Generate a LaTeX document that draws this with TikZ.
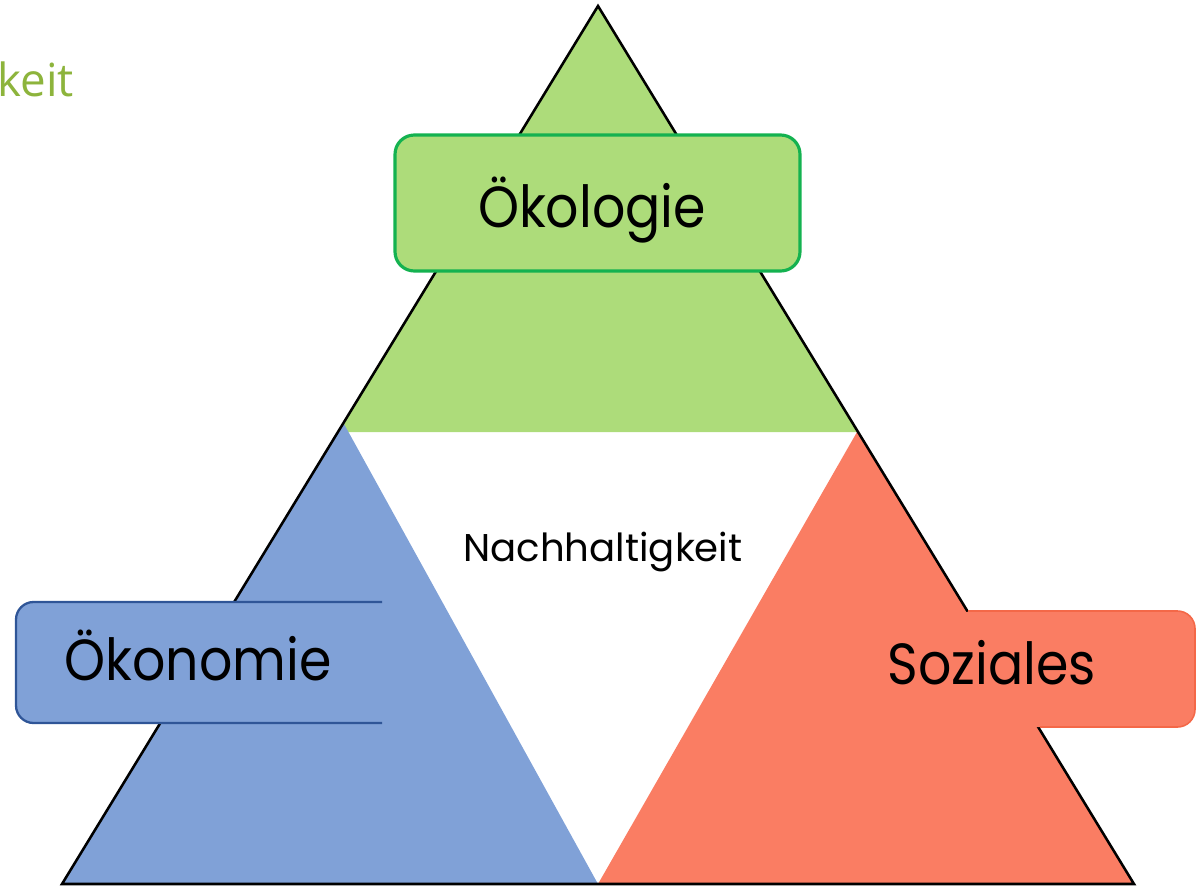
\documentclass[tikz,border=0pt]{standalone}
\usepackage{fontspec}
\setmainfont{Poppins}
\newfontfamily\boxfont[FakeStretch=0.9]{Poppins}
\newfontfamily\keitfont{Open Sans}
\definecolor{ecofill}{RGB}{173,220,122}
\definecolor{ecoline}{RGB}{20,178,80}
\definecolor{oekfill}{RGB}{128,161,215}
\definecolor{oekline}{RGB}{47,85,151}
\definecolor{sozfill}{RGB}{250,125,99}
\definecolor{sozline}{RGB}{244,104,72}
\definecolor{titlegreen}{RGB}{141,180,60}
\tikzset{
  outline/.style={draw=black, line width=1.45pt, line join=miter},
  boxtext/.style={font=\boxfont\fontsize{33}{36}\selectfont, anchor=base, inner sep=0pt},
}
\begin{document}
\begin{tikzpicture}[x=0.02cm,y=-0.02cm]
\useasboundingbox (0,0) rectangle (1196,886);
% outer triangle corners
\coordinate (A) at (598,6);
\coordinate (BL) at (62,884);
\coordinate (BR) at (1134,884);
\coordinate (M) at (598,884);
% inner corners
\coordinate (GL) at (338,432);
\coordinate (GR) at (858,432);
\coordinate (BA) at (343.5,423);
\coordinate (RA) at (857,432);
% green top triangle
\fill[ecofill] (A) -- (GL) -- (GR) -- cycle;
% blue triangle
\fill[oekfill] (BA) -- (BL) -- (M) -- cycle;
% red triangle
\fill[sozfill] (RA) -- (M) -- (BR) -- cycle;
% outline
\draw[outline] (A) -- (BL) -- (BR) -- cycle;
% Oekologie box
\filldraw[fill=ecofill, draw=ecoline, line width=1.8pt, rounded corners=11pt] (395,135) rectangle (800,271);
\node[boxtext] (oekologie) at (592,227) {Ökologie};
% Oekonomie box
\filldraw[fill=oekfill, draw=oekline, line width=1.3pt, rounded corners=10pt] (382,602) -- (16,602) -- (16,723) -- (382,723);
\node[boxtext] (oekonomie) at (198,680) {Ökonomie};
% Soziales box
\fill[sozfill, rounded corners=10pt] (955,611) -- (1195,611) -- (1195,727) -- (955,727) -- cycle;
\draw[sozline, line width=0.9pt, rounded corners=10pt] (968,611) -- (1195,611) -- (1195,727) -- (1040,727);
\node[boxtext] (soziales) at (992,684) {Soziales};
% centre label
\node[font=\fontsize{22}{26}\selectfont, anchor=base, inner sep=0pt] (nachhaltigkeit) at (603,561) {Nachhaltigkeit};
% cut-off title
\node[font=\keitfont\fontsize{26}{30}\selectfont, text=titlegreen, anchor=base west, inner sep=0pt] (keit) at (-3,96) {keit};
\end{tikzpicture}
\end{document}
